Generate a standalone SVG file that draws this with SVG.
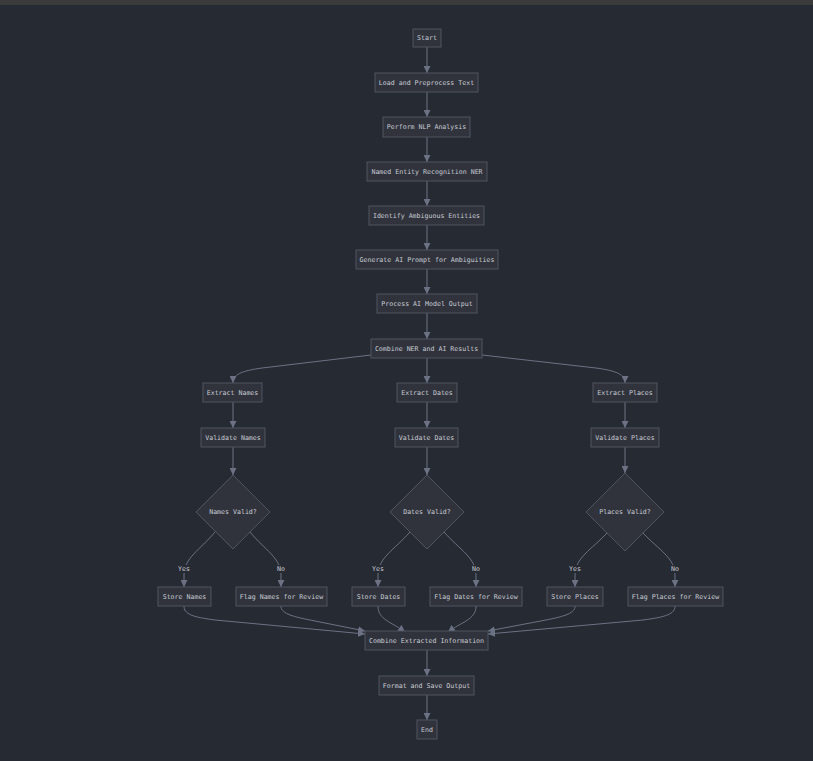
<svg xmlns="http://www.w3.org/2000/svg" width="813" height="761" viewBox="0 0 813 761">
<defs>
<style>
.n rect,.n polygon{fill:#30333c;stroke:#4f5461;stroke-width:1}
text{font-family:"DejaVu Sans Mono","Liberation Mono",monospace;font-size:6.6px;fill:#c9ccd4;text-anchor:middle;dominant-baseline:central}
.e path{fill:none;stroke:#6c7283;stroke-width:1}
.lb rect{fill:#262a33}
</style>
<marker id="ah" viewBox="0 0 10 10" refX="10" refY="5" markerWidth="7" markerHeight="7" markerUnits="userSpaceOnUse" orient="auto">
<path d="M0,0 L10,5 L0,10 z" fill="#6c7283"/>
</marker>
</defs>
<rect x="0" y="0" width="813" height="761" fill="#262a33"/>
<rect x="0" y="0" width="813" height="5" fill="#3b3b3b"/>
<g id="connectors" class="e">
<path d="M427,47 V73" marker-end="url(#ah)"/>
<path d="M427,92 V117" marker-end="url(#ah)"/>
<path d="M427,137 V162" marker-end="url(#ah)"/>
<path d="M427,181 V206" marker-end="url(#ah)"/>
<path d="M427,225 V250" marker-end="url(#ah)"/>
<path d="M427,269 V294" marker-end="url(#ah)"/>
<path d="M427,313 V339" marker-end="url(#ah)"/>
<path d="M371,355 L262,368 C240,371 233,375 233,383" marker-end="url(#ah)"/>
<path d="M427,358 V383" marker-end="url(#ah)"/>
<path d="M482,355 L596,368 C618,371 625,375 625,383" marker-end="url(#ah)"/>
<path d="M233,402 V428" marker-end="url(#ah)"/>
<path d="M427,402 V428" marker-end="url(#ah)"/>
<path d="M625,402 V428" marker-end="url(#ah)"/>
<path d="M233,447 V475" marker-end="url(#ah)"/>
<path d="M427,447 V475" marker-end="url(#ah)"/>
<path d="M625,447 V473" marker-end="url(#ah)"/>
<path d="M215,532 C200,550 184,558 184,575 V587" marker-end="url(#ah)"/>
<path d="M250,532 C265,550 281,558 281,575 V587" marker-end="url(#ah)"/>
<path d="M410,532 C394,550 378,558 378,575 V587" marker-end="url(#ah)"/>
<path d="M444,532 C460,550 476,558 476,575 V587" marker-end="url(#ah)"/>
<path d="M607,533 C591,550 575,558 575,575 V587" marker-end="url(#ah)"/>
<path d="M643,533 C659,550 675,558 675,575 V587" marker-end="url(#ah)"/>
<path d="M184,606 C184,614 192,617 215,620 L365,634" marker-end="url(#ah)"/>
<path d="M281,606 C281,613 290,616 310,620 L365,631" marker-end="url(#ah)"/>
<path d="M378,606 C378,620 392,622 405,632" marker-end="url(#ah)"/>
<path d="M476,606 C476,620 461,622 448,632" marker-end="url(#ah)"/>
<path d="M575,606 C575,613 566,616 546,620 L488,631" marker-end="url(#ah)"/>
<path d="M675,606 C675,614 666,617 643,620 L488,634" marker-end="url(#ah)"/>
<path d="M427,650 V676" marker-end="url(#ah)"/>
<path d="M427,695 V720" marker-end="url(#ah)"/>
</g>
<g id="edge-labels" class="lb">
<rect x="177" y="565" width="14" height="8"/><text x="184" y="569">Yes</text>
<rect x="276" y="565" width="10" height="8"/><text x="281" y="569">No</text>
<rect x="371" y="565" width="14" height="8"/><text x="378" y="569">Yes</text>
<rect x="471" y="565" width="10" height="8"/><text x="476" y="569">No</text>
<rect x="568" y="565" width="14" height="8"/><text x="575" y="569">Yes</text>
<rect x="670" y="565" width="10" height="8"/><text x="675" y="569">No</text>
</g>
<g id="start" class="n"><rect x="413" y="29" width="28" height="18"/><text x="427" y="38">Start</text></g>
<g id="load" class="n"><rect x="375" y="73" width="103" height="19"/><text x="426.5" y="82.5">Load and Preprocess Text</text></g>
<g id="nlp" class="n"><rect x="383" y="117" width="87" height="20"/><text x="426.5" y="127">Perform NLP Analysis</text></g>
<g id="ner" class="n"><rect x="367" y="162" width="120" height="19"/><text x="427" y="171.5">Named Entity Recognition NER</text></g>
<g id="ambig" class="n"><rect x="369" y="206" width="115" height="19"/><text x="426.5" y="215.5">Identify Ambiguous Entities</text></g>
<g id="prompt" class="n"><rect x="356" y="250" width="142" height="19"/><text x="427" y="259.5">Generate AI Prompt for Ambiguities</text></g>
<g id="process" class="n"><rect x="377" y="294" width="100" height="19"/><text x="427" y="303.5">Process AI Model Output</text></g>
<g id="combine1" class="n"><rect x="371" y="339" width="111" height="19"/><text x="426.5" y="348.5">Combine NER and AI Results</text></g>
<g id="extractNames" class="n"><rect x="203" y="383" width="59" height="19"/><text x="232.5" y="392.5">Extract Names</text></g>
<g id="extractDates" class="n"><rect x="397" y="383" width="60" height="19"/><text x="427" y="392.5">Extract Dates</text></g>
<g id="extractPlaces" class="n"><rect x="593" y="383" width="64" height="19"/><text x="625" y="392.5">Extract Places</text></g>
<g id="validateNames" class="n"><rect x="201" y="428" width="64" height="19"/><text x="233" y="437.5">Validate Names</text></g>
<g id="validateDates" class="n"><rect x="395" y="428" width="63" height="19"/><text x="426.5" y="437.5">Validate Dates</text></g>
<g id="validatePlaces" class="n"><rect x="591" y="428" width="68" height="19"/><text x="625" y="437.5">Validate Places</text></g>
<g id="namesValid" class="n"><polygon points="233,475 270,512 233,549 196,512"/><text x="233" y="512">Names Valid?</text></g>
<g id="datesValid" class="n"><polygon points="427,475 464,512 427,549 390,512"/><text x="427" y="512">Dates Valid?</text></g>
<g id="placesValid" class="n"><polygon points="625,473 664,512 625,551 586,512"/><text x="625" y="512">Places Valid?</text></g>
<g id="storeNames" class="n"><rect x="158" y="587" width="53" height="19"/><text x="184.5" y="596.5">Store Names</text></g>
<g id="flagNames" class="n"><rect x="236" y="587" width="91" height="19"/><text x="281.5" y="596.5">Flag Names for Review</text></g>
<g id="storeDates" class="n"><rect x="352" y="587" width="53" height="19"/><text x="378.5" y="596.5">Store Dates</text></g>
<g id="flagDates" class="n"><rect x="430" y="587" width="92" height="19"/><text x="476" y="596.5">Flag Dates for Review</text></g>
<g id="storePlaces" class="n"><rect x="547" y="587" width="56" height="19"/><text x="575" y="596.5">Store Places</text></g>
<g id="flagPlaces" class="n"><rect x="628" y="587" width="95" height="19"/><text x="675.5" y="596.5">Flag Places for Review</text></g>
<g id="combine2" class="n"><rect x="365" y="631" width="123" height="19"/><text x="426.5" y="640.5">Combine Extracted Information</text></g>
<g id="format" class="n"><rect x="379" y="676" width="95" height="19"/><text x="426.5" y="685.5">Format and Save Output</text></g>
<g id="end" class="n"><rect x="417" y="720" width="20" height="19"/><text x="427" y="729.5">End</text></g>
</svg>
